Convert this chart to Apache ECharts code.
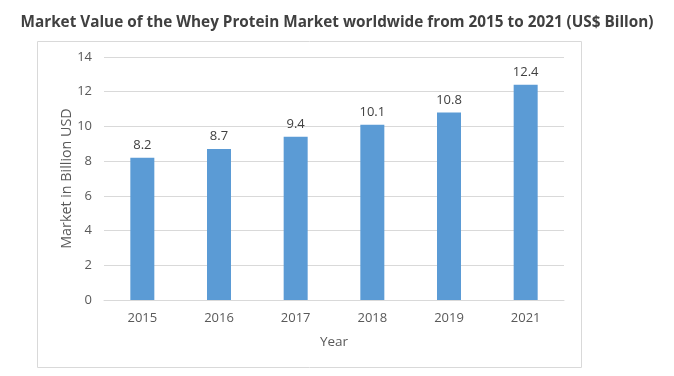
<!DOCTYPE html>
<html><head><meta charset="utf-8">
<script src="https://cdn.jsdelivr.net/npm/echarts@6/dist/echarts.min.js"></script>
<style>html,body{margin:0;padding:0;background:#fff}#c{width:674px;height:376px}</style>
</head><body><div id="c"></div>
<script>
var categories = ['2015','2016','2017','2018','2019','2021'];
var values = [8.2, 8.7, 9.4, 10.1, 10.8, 12.4];
var yTicks = [0,2,4,6,8,10,12,14];
var chart = echarts.init(document.getElementById('c'));
chart.setOption({
  animation:false,
  title:{text:'Market Value of the Whey Protein Market worldwide from 2015 to 2021 (US$ Billon)',left:'center',top:10,
    textStyle:{fontFamily:'Open Sans',fontWeight:'bold',fontSize:15.3,color:'#404040'}},
  graphic:[{type:'rect',shape:{x:37.5,y:41.5,width:544,height:326},style:{fill:'none',stroke:'#d9d9d9',lineWidth:1},silent:true}],
  grid:{left:104,right:110,top:57,bottom:76},
  xAxis:{type:'category',data:categories,name:'Year',nameLocation:'middle',nameGap:35,nameMoveOverlap:false,
    nameTextStyle:{fontFamily:'Open Sans',fontSize:13.5,color:'#595959'},
    axisLine:{lineStyle:{color:'#d9d9d9'}},axisTick:{show:false},
    axisLabel:{fontFamily:'Open Sans',fontSize:13,color:'#595959',margin:12}},
  yAxis:{type:'value',min:yTicks[0],max:yTicks[yTicks.length-1],interval:2,name:'Market in Billion USD',nameLocation:'middle',nameGap:30,nameMoveOverlap:false,
    nameTextStyle:{fontFamily:'Open Sans',fontSize:14.3,color:'#595959'},
    axisLine:{show:false},axisTick:{show:false},
    axisLabel:{fontFamily:'Open Sans',fontSize:13,color:'#595959',margin:12},
    splitLine:{lineStyle:{color:'#d9d9d9'}}},
  series:[{type:'bar',data:values,barWidth:24,itemStyle:{color:'#5B9BD5'},
    label:{show:true,position:'top',distance:6,fontFamily:'Open Sans',fontSize:13,color:'#404040'}}]
});
</script></body></html>
